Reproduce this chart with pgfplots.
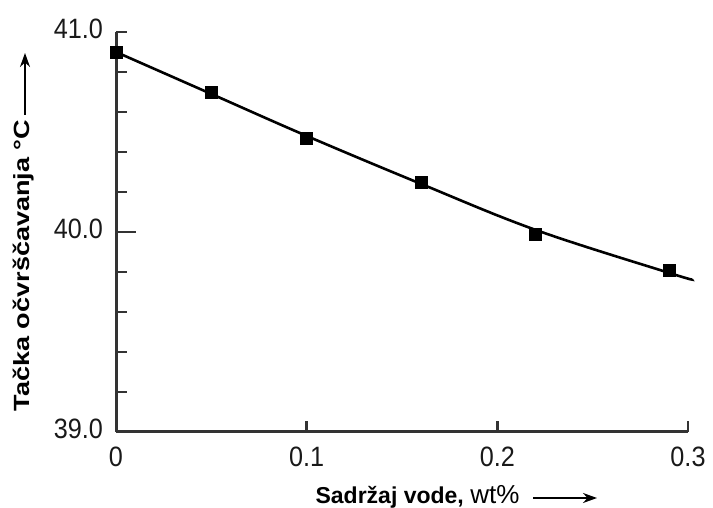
\documentclass[border=0pt]{standalone}
\usepackage{fontspec}
\setmainfont{Liberation Sans}
\usepackage{pgfplots}
\pgfplotsset{compat=1.18}
\usetikzlibrary{arrows.meta}
\begin{document}
\begin{tikzpicture}
\path[use as bounding box] (0pt,0pt) rectangle (713pt,507pt);
\begin{axis}[
  at={(116pt,75.3pt)}, anchor=south west, scale only axis,
  width=572pt, height=399.7pt,
  xmin=0, xmax=0.3, ymin=39, ymax=41, enlargelimits=false, clip=false,
  axis lines=left, axis line style={-, line width=3pt, black!80},
  tick align=inside, major tick length=11pt, minor tick length=11pt,
  tick style={line width=2.4pt, black!80},
  xtick={0,0.1,0.2,0.3},
  xticklabels={\scalebox{0.9}[1]{0},\scalebox{0.9}[1]{0.1},\scalebox{0.9}[1]{0.2},\scalebox{0.9}[1]{0.3}},
  ytick={39,41}, yticklabels={\scalebox{0.9}[1]{39.0},\scalebox{0.9}[1]{41.0}},
  extra y ticks={40}, extra y tick labels={\scalebox{0.9}[1]{40.0}},
  extra y tick style={major tick length=20pt},
  minor ytick={39.2,39.4,39.6,39.8,40.2,40.4,40.6,40.8},
  ticklabel style={font=\fontsize{28}{30}\selectfont, inner sep=0pt, text=black!90},
  xticklabel style={anchor=north, yshift=-15pt},
  yticklabel style={anchor=east, xshift=-13pt, yshift=3pt},
]
\addplot[black, line width=2.6pt, smooth, tension=0.6] coordinates {
  (0,40.90) (0.05,40.69) (0.10,40.48) (0.16,40.24) (0.22,40.01) (0.29,39.795) (0.302,39.762)
};
\addplot[only marks, mark=square*, mark size=6pt, black] coordinates {
  (0,40.90) (0.05,40.70) (0.10,40.47) (0.16,40.25) (0.22,39.99) (0.29,39.81)
};
\end{axis}
\node[rotate=90] at (24pt,241.5pt) {\fontsize{22}{24}\selectfont\bfseries\scalebox{1.23}[1]{Tačka očvrščavanja °C}};
\draw[line width=2.2pt, -{Stealth[length=14pt,width=10pt]}] (25pt,392pt) -- (25pt,454pt);
\node[anchor=base] at (417.5pt,4pt) {\fontsize{23}{25}\selectfont\textbf{Sadržaj vode,} {\fontsize{26}{28}\selectfont wt\%}};
\draw[line width=2.2pt, -{Stealth[length=14pt,width=10pt]}] (533pt,9pt) -- (597pt,9pt);
\end{tikzpicture}
\end{document}
